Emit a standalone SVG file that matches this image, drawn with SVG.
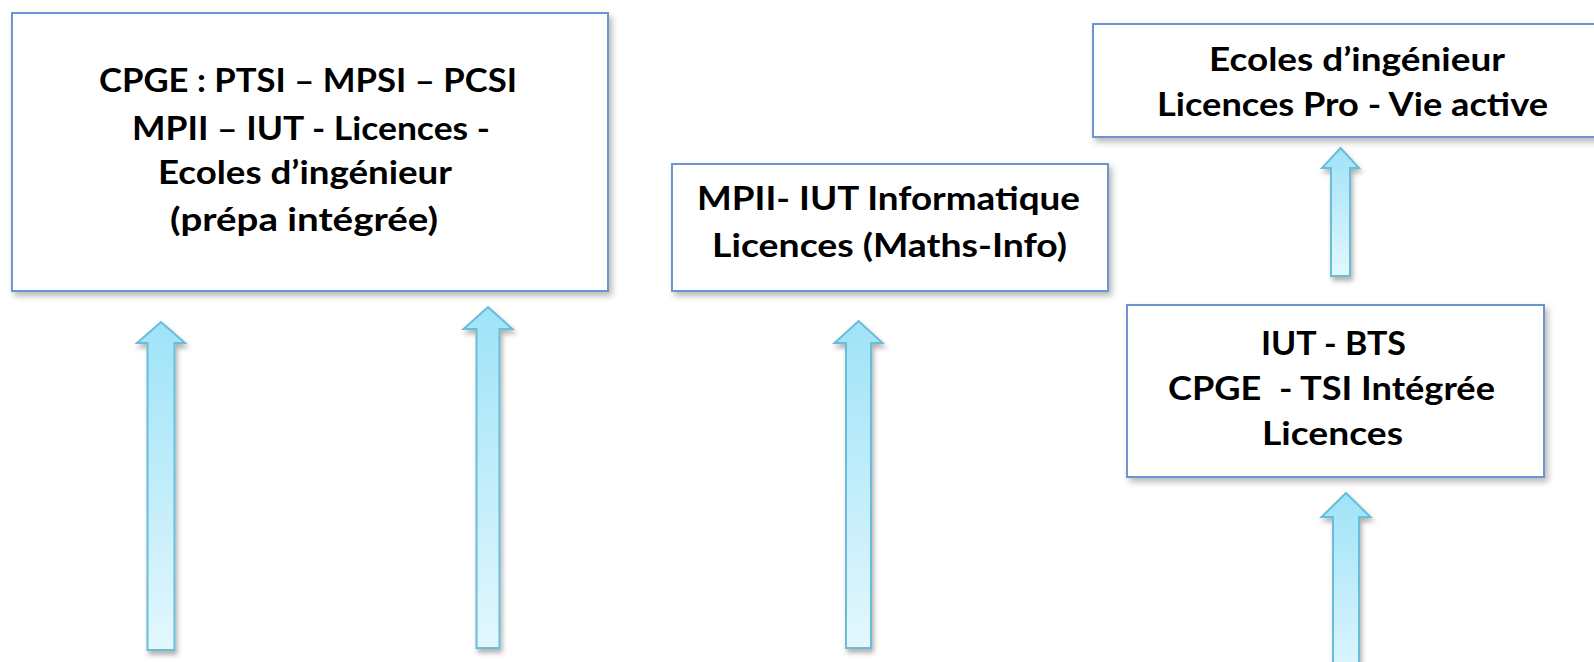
<svg xmlns="http://www.w3.org/2000/svg" width="1594" height="662" viewBox="0 0 1594 662">
<defs>
<filter id="sh" x="-10%" y="-10%" width="130%" height="130%">
<feDropShadow dx="3" dy="4" stdDeviation="3" flood-color="#000" flood-opacity="0.28"/>
</filter>
<filter id="ash" x="-50%" y="-10%" width="200%" height="130%">
<feDropShadow dx="2" dy="4" stdDeviation="2.5" flood-color="#000" flood-opacity="0.3"/>
</filter>
<linearGradient id="ag" x1="0" y1="0" x2="0" y2="1">
<stop offset="0" stop-color="#9fe3f8"/>
<stop offset="1" stop-color="#e3f7fd"/>
</linearGradient>
<style>
.box{fill:#ffffff;stroke:#6e95d2;stroke-width:2;filter:url(#sh)}
.t{font-family:Lato,"Liberation Sans",sans-serif;font-weight:bold;font-size:33px;fill:#000;text-anchor:middle}
.arr{fill:url(#ag);stroke:#69bdd9;stroke-width:2;stroke-linejoin:miter;filter:url(#ash)}
</style>
</defs>
<rect width="1594" height="662" fill="#ffffff"/>
<g id="connectors">
<path class="arr" d="M161,322 L185,343 L174.5,343 L174.5,650 L147.5,650 L147.5,343 L137,343 Z"/>
<path class="arr" d="M488,307 L512.5,329 L499.5,329 L499.5,648 L476.5,648 L476.5,329 L463.5,329 Z"/>
<path class="arr" d="M858.5,321 L882.5,343 L871,343 L871,648 L846,648 L846,343 L834.5,343 Z"/>
<path class="arr" d="M1340.5,148 L1359,168 L1350,168 L1350,276 L1331,276 L1331,168 L1322,168 Z"/>
<path class="arr" d="M1346,493 L1370.5,517 L1359,517 L1359,690 L1333,690 L1333,517 L1321.5,517 Z"/>
</g>
<g id="node1">
<rect class="box" x="12" y="13" width="596" height="278"/>
<text class="t" x="308" y="92" textLength="418" lengthAdjust="spacingAndGlyphs">CPGE : PTSI – MPSI – PCSI</text>
<text class="t" x="311" y="140" textLength="358" lengthAdjust="spacingAndGlyphs">MPII – IUT - Licences -</text>
<text class="t" x="305" y="184" textLength="294" lengthAdjust="spacingAndGlyphs">Ecoles d’ingénieur</text>
<text class="t" x="304" y="231" textLength="268" lengthAdjust="spacingAndGlyphs">(prépa intégrée)</text>
</g>
<g id="node2">
<rect class="box" x="672" y="164" width="436" height="127"/>
<text class="t" x="888.5" y="210" textLength="383" lengthAdjust="spacingAndGlyphs">MPII- IUT Informatique</text>
<text class="t" x="889.5" y="257" textLength="355" lengthAdjust="spacingAndGlyphs">Licences (Maths-Info)</text>
</g>
<g id="node3">
<rect class="box" x="1093" y="24" width="530" height="113"/>
<text class="t" x="1357" y="71" textLength="296" lengthAdjust="spacingAndGlyphs">Ecoles d’ingénieur</text>
<text class="t" x="1352.5" y="116" textLength="391" lengthAdjust="spacingAndGlyphs">Licences Pro - Vie active</text>
</g>
<g id="node4">
<rect class="box" x="1127" y="305" width="417" height="172"/>
<text class="t" x="1333.5" y="355" textLength="145" lengthAdjust="spacingAndGlyphs">IUT - BTS</text>
<text class="t" x="1331.5" y="400" textLength="327" lengthAdjust="spacingAndGlyphs" xml:space="preserve">CPGE  - TSI Intégrée</text>
<text class="t" x="1332.5" y="445" textLength="141" lengthAdjust="spacingAndGlyphs">Licences</text>
</g>
</svg>
